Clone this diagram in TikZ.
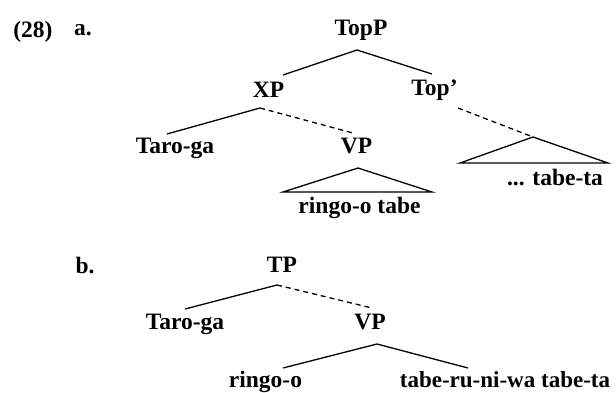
\documentclass[tikz,border=0pt]{standalone}
\usepackage{fontspec}
\setmainfont{Liberation Serif}
\begin{document}
\begin{tikzpicture}[x=1pt,y=-1pt,
  lbl/.style={inner sep=0pt, anchor=base, font=\fontsize{23.5}{25}\selectfont\bfseries},
  edge/.style={line width=1.3pt},
  dedge/.style={line width=1.3pt, dash pattern=on 5pt off 4pt}]
\useasboundingbox (0,0) rectangle (616,392);
% example labels
\node[lbl] (n28) at (33,37) {(28)};
\node[lbl] (la) at (83,35) {a.};
\node[lbl] (lb) at (85,273) {b.};
% tree (a)
\node[lbl] (topp) at (361,35) {TopP};
\node[lbl] (xp) at (268.5,97) {XP};
\node[lbl] (topbar) at (434.5,95) {Top'};
\node[lbl] (taroa) at (175,153) {Taro-ga};
\node[lbl] (vpa) at (356.5,153) {VP};
\node[lbl] (ringotabe) at (359.5,213) {ringo-o tabe};
\node[lbl] (tabeta) at (555,185) {... tabe-ta};
\coordinate (toppA) at (357,50);
\coordinate (xpT) at (283,75);
\coordinate (topbarT) at (432,74);
\coordinate (xpA) at (260,108);
\coordinate (taroaT) at (167,134);
\coordinate (vpaT) at (353,133);
\coordinate (topbarA) at (458,108);
\draw[edge] (xpT) -- (toppA) -- (topbarT);
\draw[edge] (taroaT) -- (xpA);
\draw[dedge] (xpA) -- (vpaT);
% roof under VP
\coordinate (t1a) at (358,168);
\coordinate (t1l) at (283,192);
\coordinate (t1r) at (432,192);
\draw[edge, line join=miter] (t1l) -- (t1a) -- (t1r) -- cycle;
% roof under Top'
\coordinate (t2a) at (533,137);
\coordinate (t2l) at (460,163);
\coordinate (t2r) at (608,163);
\draw[edge, line join=miter] (t2l) -- (t2a) -- (t2r) -- cycle;
\draw[dedge] (topbarA) -- (t2a);
% tree (b)
\node[lbl] (tp) at (282,272) {TP};
\node[lbl] (tarob) at (185,329) {Taro-ga};
\node[lbl] (vpb) at (370,329) {VP};
\node[lbl] (ringo) at (265.5,387) {ringo-o};
\node[lbl, font=\fontsize{23}{25}\selectfont\bfseries] (taberu) at (505,387) {tabe-ru-ni-wa tabe-ta};
\coordinate (tpA) at (277,285);
\coordinate (tarobT) at (185,309);
\coordinate (vpbT) at (372,308);
\coordinate (vpbA) at (377,344);
\coordinate (ringoT) at (283,368);
\coordinate (taberuT) at (468,368);
\draw[edge] (tarobT) -- (tpA);
\draw[dedge] (tpA) -- (vpbT);
\draw[edge] (ringoT) -- (vpbA) -- (taberuT);
\end{tikzpicture}
\end{document}
